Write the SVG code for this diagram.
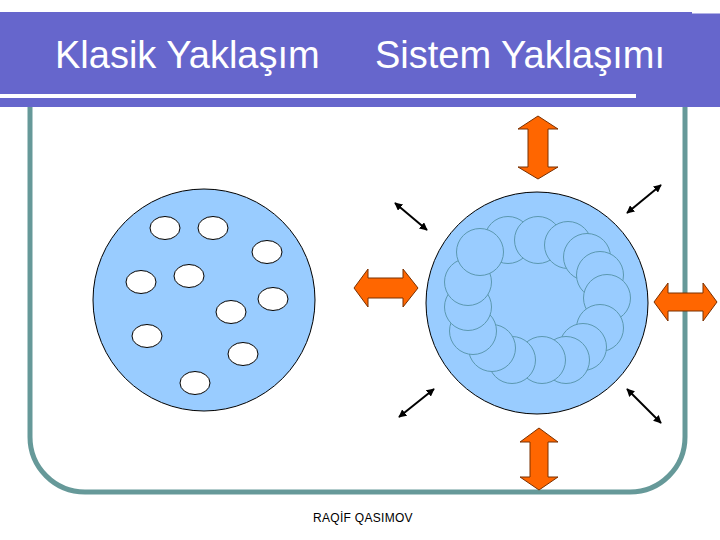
<svg xmlns="http://www.w3.org/2000/svg" width="720" height="540" viewBox="0 0 720 540">
<style>
.title{font-family:"Liberation Sans",Arial,sans-serif;font-size:38px;fill:#ffffff}
.foot{font-family:"Liberation Sans",Arial,sans-serif;font-size:12px;fill:#000000}
.cell{fill:#99ccff;stroke:#000000;stroke-width:1}
.hole{fill:#ffffff;stroke:#000000;stroke-width:1}
.sub{fill:#99ccff;stroke:#5b98b0;stroke-width:1}
.big{fill:#ff6600;stroke:#7a3000;stroke-width:1}
.thin{stroke:#000000;stroke-width:2;fill:none;marker-start:url(#ah);marker-end:url(#ah)}
</style>
<defs>
<marker id="ah" viewBox="0 0 10 10" refX="9" refY="5" markerWidth="4" markerHeight="4" orient="auto-start-reverse">
<path d="M0,0 L10,5 L0,10 z" fill="#000000"/>
</marker>
</defs>
<rect width="720" height="540" fill="#ffffff"/>
<g id="header">
<rect x="0" y="12" width="692" height="95" fill="#6666cc"/>
<rect x="692" y="13.5" width="28" height="93.5" fill="#6666cc"/>
<rect x="0" y="94" width="636" height="4" fill="#ffffff"/>
<text class="title" x="55" y="68">Klasik Yaklaşım</text>
<text class="title" x="375" y="68">Sistem Yaklaşımı</text>
</g>
<g id="frame">
<path d="M30,107 V437 A55,55 0 0 0 85,492 H630 A55,55 0 0 0 685,437 V107" fill="none" stroke="#669999" stroke-width="5"/>
</g>
<g id="classic">
<circle class="cell" cx="204" cy="300" r="111"/>
<ellipse class="hole" cx="165" cy="228" rx="15" ry="11.5"/>
<ellipse class="hole" cx="213" cy="228" rx="15" ry="11.5"/>
<ellipse class="hole" cx="267" cy="252" rx="15" ry="11.5"/>
<ellipse class="hole" cx="141" cy="282" rx="15" ry="11.5"/>
<ellipse class="hole" cx="189" cy="276" rx="15" ry="11.5"/>
<ellipse class="hole" cx="273" cy="299" rx="15" ry="11.5"/>
<ellipse class="hole" cx="231" cy="312" rx="15" ry="11.5"/>
<ellipse class="hole" cx="147" cy="336" rx="15" ry="11.5"/>
<ellipse class="hole" cx="243" cy="354" rx="15" ry="11.5"/>
<ellipse class="hole" cx="195" cy="383" rx="15" ry="11.5"/>
</g>
<g id="system">
<circle class="cell" cx="537" cy="303" r="111"/>
<circle class="sub" cx="508" cy="240" r="23.5"/>
<circle class="sub" cx="538" cy="240" r="23.5"/>
<circle class="sub" cx="568" cy="245" r="23.5"/>
<circle class="sub" cx="587" cy="257" r="23.5"/>
<circle class="sub" cx="600" cy="275" r="23.5"/>
<circle class="sub" cx="607" cy="298" r="23.5"/>
<circle class="sub" cx="600" cy="328" r="23.5"/>
<circle class="sub" cx="583" cy="347" r="23.5"/>
<circle class="sub" cx="566" cy="360" r="23.5"/>
<circle class="sub" cx="542" cy="360" r="23.5"/>
<circle class="sub" cx="512" cy="360" r="23.5"/>
<circle class="sub" cx="492" cy="348" r="23.5"/>
<circle class="sub" cx="473" cy="331" r="23.5"/>
<circle class="sub" cx="468" cy="307" r="23.5"/>
<circle class="sub" cx="468" cy="282" r="23.5"/>
<circle class="sub" cx="480" cy="252" r="23.5"/>
</g>
<g id="connectors">
<path id="arrow-top" class="big" d="M538,116 L558,129 L548,129 L548,167 L558,167 L538,179 L518,167 L528,167 L528,129 L518,129 Z"/>
<path id="arrow-bottom" class="big" d="M539,428 L558,442 L548,442 L548,477 L558,477 L539,490 L520,477 L530,477 L530,442 L520,442 Z"/>
<path id="arrow-left" class="big" d="M354,288 L368,269 L368,278 L403,278 L403,269 L418,288 L403,307 L403,298 L368,298 L368,307 Z"/>
<path id="arrow-right" class="big" d="M654,302 L668,283 L668,293 L703,293 L703,283 L717,302 L703,321 L703,311 L668,311 L668,321 Z"/>
<line class="thin" x1="395" y1="203" x2="427" y2="230"/>
<line class="thin" x1="627" y1="213" x2="661" y2="185"/>
<line class="thin" x1="399" y1="417" x2="434" y2="389"/>
<line class="thin" x1="627" y1="389" x2="661" y2="423"/>
</g>
<g id="footer">
<text class="foot" x="313" y="522" letter-spacing="0.3">RAQİF QASIMOV</text>
</g>
</svg>
